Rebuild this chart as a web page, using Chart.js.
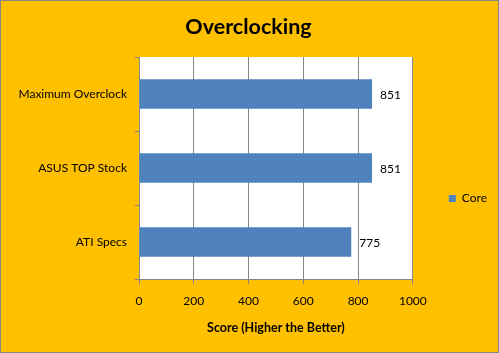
<!DOCTYPE html>
<html><head><meta charset="utf-8">
<script src="https://cdn.jsdelivr.net/npm/chart.js@4/dist/chart.umd.min.js"></script>
<style>html,body{margin:0;padding:0;background:#fff}canvas{display:block}</style>
</head><body>
<canvas id="c" width="499" height="353"></canvas>
<script>
const categories = ['Maximum Overclock', 'ASUS TOP Stock', 'ATI Specs'];
const coreValues = [851, 851, 775];
const seriesName = 'Core';
const chartTitle = 'Overclocking';
const xAxisTitle = 'Score (Higher the Better)';
const xTickLabels = ['0', '200', '400', '600', '800', '1000'];

const FONT = 'Lato, Carlito, Calibri, sans-serif';

const bgPlugin = {
  id: 'bg',
  afterLayout(chart) {
    if (chart.legend) { chart.legend.top += 22; chart.legend.bottom += 22; }
  },
  beforeDraw(chart) {
    const {ctx, width, height, chartArea: a} = chart;
    ctx.save();
    ctx.fillStyle = '#FFC000';
    ctx.fillRect(0, 0, width, height);
    ctx.fillStyle = '#FFFFFF';
    ctx.fillRect(a.left, a.top, a.right - a.left, a.bottom - a.top);
    ctx.restore();
  },
  afterDraw(chart) {
    const {ctx, width, height} = chart;
    ctx.save();
    ctx.strokeStyle = '#868686';
    ctx.lineWidth = 1;
    ctx.strokeRect(0.5, 0.5, width - 1, height - 1);
    ctx.restore();
  }
};

const labelPlugin = {
  id: 'vlabels',
  afterDatasetsDraw(chart) {
    const {ctx} = chart;
    ctx.save();
    ctx.font = '12px ' + FONT;
    ctx.fillStyle = '#000';
    ctx.textAlign = 'left';
    ctx.textBaseline = 'middle';
    chart.data.datasets.forEach((ds, i) => {
      chart.getDatasetMeta(i).data.forEach((bar, j) => {
        ctx.fillText(String(ds.data[j]), bar.x + 8, bar.y + 1);
      });
    });
    ctx.restore();
  }
};

new Chart(document.getElementById('c'), {
  type: 'bar',
  data: {
    labels: categories,
    datasets: [{
      label: seriesName,
      data: coreValues,
      backgroundColor: '#4F81BD',
      borderWidth: 0,
      barPercentage: 0.4,
      categoryPercentage: 1
    }]
  },
  options: {
    indexAxis: 'y',
    responsive: false,
    animation: false,
    devicePixelRatio: 1,
    layout: {padding: {left: 0, top: 0, right: 2, bottom: 0}},
    plugins: {
      title: {
        display: true,
        text: chartTitle,
        color: '#000',
        font: {family: FONT, size: 21.5, weight: 'bold', lineHeight: 1.2},
        padding: {top: 14, bottom: 17.2}
      },
      legend: {
        position: 'right',
        align: 'center',
        labels: {
          boxWidth: 7, boxHeight: 7, padding: 36,
          color: '#000',
          font: {family: FONT, size: 12}
        }
      },
      tooltip: {enabled: false}
    },
    scales: {
      x: {
        min: 0, max: 1000,
        ticks: {stepSize: 200, color: '#000', font: {family: FONT, size: 12}, padding: 10, maxRotation: 0,
          callback: (v, i) => xTickLabels[i]},
        grid: {color: '#868686', tickLength: 5, drawTicks: true},
        border: {color: '#868686'},
        title: {display: true, text: xAxisTitle, color: '#000',
          font: {family: FONT, size: 12.5, weight: 'bold', lineHeight: 1.2}, padding: {top: 18, bottom: 18}},
        afterFit(s) { s.height = 74; }
      },
      y: {
        ticks: {color: '#000', font: {family: FONT, size: 12}, padding: 8},
        grid: {drawOnChartArea: false, color: '#868686', tickLength: 4, offset: true},
        border: {color: '#868686'},
        afterFit(s) { s.width = 139; }
      }
    }
  },
  plugins: [bgPlugin, labelPlugin]
});
</script>
</body></html>
